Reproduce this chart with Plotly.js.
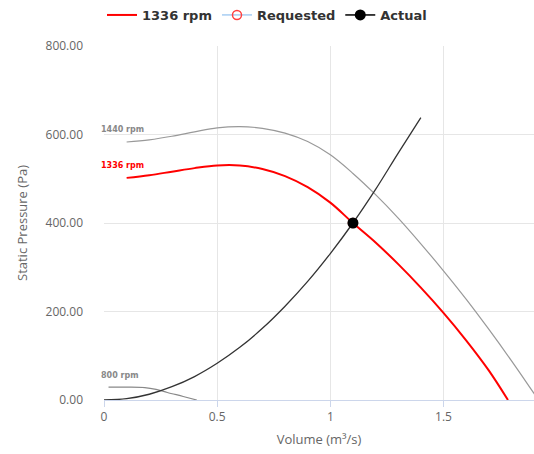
<!DOCTYPE html>
<html>
<head>
<meta charset="utf-8">
<script src="https://cdn.plot.ly/plotly-3.0.1.min.js"></script>
<style>
  html, body { margin: 0; padding: 0; background: #fff; }
  #chart { width: 534px; height: 454px; }
</style>
</head>
<body>
<div id="chart"></div>
<script>
// Fan curve: 1336 rpm (operating speed)
const volume1336 = [0.1, 0.2, 0.3, 0.4, 0.5, 0.6, 0.7, 0.8, 0.9, 1.0, 1.1, 1.2, 1.3, 1.4, 1.5, 1.6, 1.7, 1.785];
const pressure1336 = [502, 508, 516, 524, 530, 530, 522, 506, 481, 446, 400, 356, 307, 254, 197, 135, 67, 0];

// Fan curve: 1440 rpm (max)
const volume1440 = [0.1, 0.2, 0.3, 0.4, 0.5, 0.6, 0.7, 0.8, 0.9, 1.0, 1.1, 1.2, 1.3, 1.4, 1.5, 1.6, 1.7, 1.8, 1.9, 1.95];
const pressure1440 = [583, 588, 596, 606, 615, 618, 614, 603, 584, 554, 512, 464, 411, 353, 292, 228, 160, 89, 15, -22];

// Fan curve: 800 rpm (min)
const volume800 = [0.02, 0.1, 0.18, 0.23, 0.28, 0.35, 0.41];
const pressure800 = [29, 29, 28, 24, 17, 8, 0];

// System curve
const volumeSys = [0, 0.1, 0.2, 0.3, 0.4, 0.5, 0.6, 0.7, 0.8, 0.9, 1.0, 1.1, 1.2, 1.3, 1.4];
const pressureSys = [0, 3, 13, 30, 53, 83, 119, 162, 212, 268, 331, 400, 476, 558, 638];

// Duty points
const requestedVolume = [1.1];
const requestedPressure = [400];
const actualVolume = [1.1];
const actualPressure = [400];

// Axis ticks
const xTicks = [0, 0.5, 1, 1.5];
const xTickLabels = ['0', '0.5', '1', '1.5'];
const yTicks = [0, 200, 400, 600, 800];
const yTickLabels = ['0.00', '200.00', '400.00', '600.00', '800.00'];

// Curve labels
const curveLabels = ['1440 rpm', '1336 rpm', '800 rpm'];
const curveLabelY = [612, 531, 56];
const curveLabelColors = ['#888888', '#ff0000', '#888888'];

const traces = [
  { x: volume1440, y: pressure1440, mode: 'lines', line: { color: '#999999', width: 1.2, shape: 'spline' }, showlegend: false, hoverinfo: 'skip' },
  { x: volume800, y: pressure800, mode: 'lines', line: { color: '#888888', width: 1.2, shape: 'spline' }, showlegend: false, hoverinfo: 'skip' },
  { x: volumeSys, y: pressureSys, mode: 'lines', line: { color: '#333333', width: 1.3, shape: 'spline' }, showlegend: false, hoverinfo: 'skip' },
  { x: volume1336, y: pressure1336, mode: 'lines', name: '1336 rpm', line: { color: '#ff0000', width: 2, shape: 'spline' } },
  { x: requestedVolume, y: requestedPressure, mode: 'lines+markers', name: 'Requested', line: { color: '#7cb5ec', width: 1 }, marker: { symbol: 'circle-open', color: '#ff4040', size: 9, line: { width: 1.5 } } },
  { x: actualVolume, y: actualPressure, mode: 'lines+markers', name: 'Actual', line: { color: '#000000', width: 1.5 }, marker: { symbol: 'circle', color: '#000000', size: 11 } }
];

const annotations = curveLabels.map((t, i) => ({
  x: 0, y: curveLabelY[i], xref: 'x', yref: 'y', text: '<b>' + t + '</b>',
  showarrow: false, xanchor: 'left', yanchor: 'middle', xshift: -5,
  font: { family: 'DejaVu Sans', size: 8, color: curveLabelColors[i] }
}));

const layout = {
  width: 534, height: 454,
  margin: { l: 104, r: 0, t: 46, b: 54 },
  paper_bgcolor: '#ffffff', plot_bgcolor: '#ffffff',
  font: { family: 'Open Sans', color: '#666666' },
  showlegend: true,
  legend: {
    orientation: 'h', xref: 'container', yref: 'container', x: 0.5, xanchor: 'center', y: 1, yanchor: 'top',
    font: { family: 'DejaVu Sans', size: 13, color: '#333333', weight: 'bold' },
    itemwidth: 30, tracegroupgap: 0, bgcolor: 'rgba(0,0,0,0)'
  },
  xaxis: {
    range: [0, 1.9], tickvals: xTicks, ticktext: xTickLabels,
    showgrid: true, gridcolor: '#e6e6e6', gridwidth: 1,
    zeroline: false, showline: true, linecolor: '#ccd6eb', linewidth: 1,
    ticks: 'outside', ticklen: 6, tickcolor: '#ccd6eb',
    tickfont: { family: 'Open Sans', size: 12, color: '#666666' },
    title: { text: 'Volume (m³/s)', font: { family: 'Open Sans', size: 13, color: '#666666' }, standoff: 10 },
    fixedrange: true
  },
  yaxis: {
    range: [0, 800], tickvals: yTicks, ticktext: yTickLabels,
    showgrid: true, gridcolor: '#e6e6e6', gridwidth: 1,
    zeroline: false, showline: false, ticks: '',
    ticklabelstandoff: 20,
    tickfont: { family: 'Open Sans', size: 12, color: '#666666' },
    title: { text: 'Static Pressure (Pa)', font: { family: 'Open Sans', size: 13, color: '#666666' }, standoff: 14 },
    fixedrange: true
  },
  annotations: annotations
};

Plotly.newPlot('chart', traces, layout, { displayModeBar: false, staticPlot: true });
</script>
</body>
</html>
